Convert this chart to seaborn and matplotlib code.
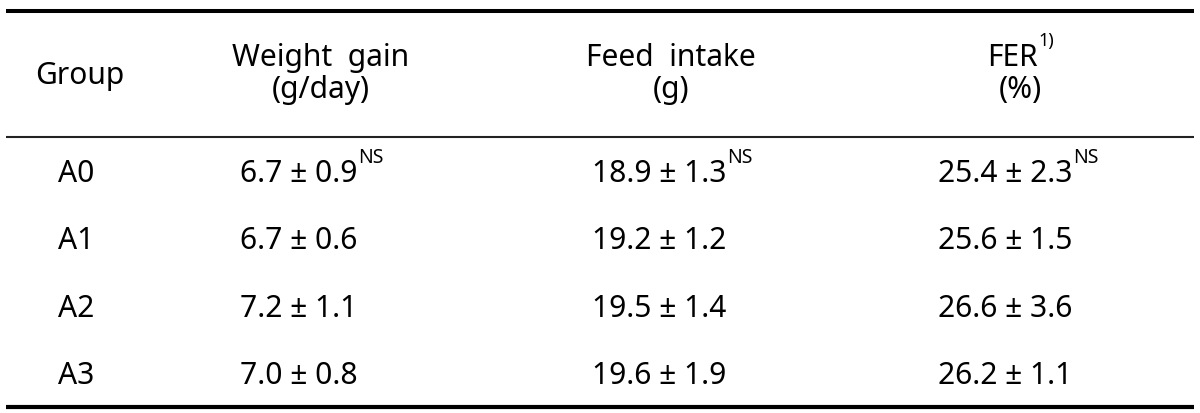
import numpy as np
import pandas as pd
import matplotlib
matplotlib.use("Agg")
import matplotlib.pyplot as plt
import seaborn as sns

# table content
GROUPS      = ["A0", "A1", "A2", "A3"]
WEIGHT_MEAN = [6.7, 6.7, 7.2, 7.0]
WEIGHT_SD   = [0.9, 0.6, 1.1, 0.8]
FEED_MEAN   = [18.9, 19.2, 19.5, 19.6]
FEED_SD     = [1.3, 1.2, 1.4, 1.9]
FER_MEAN    = [25.4, 25.6, 26.6, 26.2]
FER_SD      = [2.3, 1.5, 3.6, 1.1]
ROW_NOTES   = ["NS", "", "", ""]
HEAD_TOP    = ["Group", "Weight  gain", "Feed  intake", "FER"]
HEAD_BOTTOM = ["", "(g/day)", "(g)", "(%)"]
HEAD_NOTES  = ["", "", "", "1)"]

# layout (pixels)
W, H = 1200, 413
HEAD_X   = [80, 321, 671, 1012]
HEAD2_X  = [80, 321, 671, 1020]
COL_X    = [58, 240, 592, 938]
ROW_Y0   = 182
ROW_STEP = 67.3
FS       = 21.6
FS_SUP   = 14

sns.set_theme(style="white")
plt.rcParams["font.family"] = ["Noto Sans", "DejaVu Sans"]

df = pd.DataFrame({
    "group": GROUPS,
    "weight": [f"{m:.1f} ± {s:.1f}" for m, s in zip(WEIGHT_MEAN, WEIGHT_SD)],
    "feed": [f"{m:.1f} ± {s:.1f}" for m, s in zip(FEED_MEAN, FEED_SD)],
    "fer": [f"{m:.1f} ± {s:.1f}" for m, s in zip(FER_MEAN, FER_SD)],
    "note": ROW_NOTES,
})

fig = plt.figure(figsize=(W / 100, H / 100), dpi=100)
ax = fig.add_axes([0, 0, 1, 1])
ax.set_xlim(0, W)
ax.set_ylim(H, 0)
ax.axis("off")

renderer = fig.canvas.get_renderer()


def put_sup(t, note, dy=19, fs=FS_SUP):
    if not note:
        return
    bb = t.get_window_extent(renderer)
    x_right = ax.transData.inverted().transform((bb.x1, bb.y0))[0]
    _, y_base = t.get_position()
    ax.text(x_right + 1, y_base - dy, note, fontsize=fs,
            ha="left", va="baseline", color="black")


# rules
ax.hlines(11, 6, 1194, color="black", lw=2.9)
ax.hlines(136.5, 6, 1194, color="#222222", lw=1.5)
ax.hlines(407, 6, 1194, color="black", lw=3.0)

# header
for i, (top, bot, note) in enumerate(zip(HEAD_TOP, HEAD_BOTTOM, HEAD_NOTES)):
    if bot:
        t = ax.text(HEAD_X[i], 66, top, fontsize=FS, ha="center", va="baseline", color="black")
        ax.text(HEAD2_X[i], 98, bot, fontsize=FS, ha="center", va="baseline", color="black")
    else:
        t = ax.text(HEAD_X[i], 84, top, fontsize=FS, ha="center", va="baseline", color="black")
    put_sup(t, note, dy=20, fs=13)

# body
for r, row in df.iterrows():
    y = ROW_Y0 + r * ROW_STEP
    ax.text(COL_X[0], y, row["group"], fontsize=FS, ha="left", va="baseline", color="black")
    for c, key in enumerate(["weight", "feed", "fer"], start=1):
        t = ax.text(COL_X[c], y, row[key], fontsize=FS, ha="left", va="baseline", color="black")
        put_sup(t, row["note"])

fig.savefig("out.png", dpi=100, facecolor="white")
plt.close(fig)
